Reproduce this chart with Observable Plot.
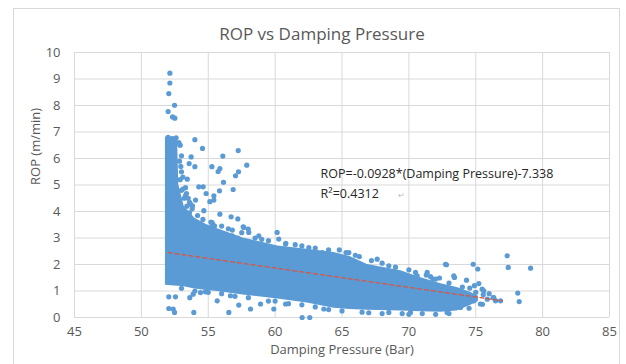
<!DOCTYPE html>
<html>
<head>
<meta charset="utf-8">
<script src="https://cdn.jsdelivr.net/npm/d3@7"></script>
<script src="https://cdn.jsdelivr.net/npm/@observablehq/plot@0.6"></script>
<style>
  html, body { margin: 0; padding: 0; background: #fff; }
  #wrap { position: relative; width: 626px; height: 364px; overflow: hidden; background:#fff; }
  #border { position: absolute; left: 13px; top: 8px; width: 607px; height: 420px; border: 1px solid #d9d9d9; box-sizing: border-box; }
  #chart { position: absolute; left: 0; top: 0; }
</style>
</head>
<body>
<div id="wrap"><div id="border"></div><div id="chart"></div></div>
<script>
const titleText = "ROP vs Damping Pressure";
const xLabel = "Damping Pressure (Bar)";
const yLabel = "ROP (m/min)";
const eqText = "ROP=-0.0928*(Damping Pressure)-7.338";
const r2Text = "R\u00b2=0.4312";
const eqX = 63.4, eqY = 5.41, r2Y = 4.66;

const xTicks = [45, 50, 55, 60, 65, 70, 75, 80, 85];
const yTicks = [0, 1, 2, 3, 4, 5, 6, 7, 8, 9, 10];

// dense core of the scatter cloud (visible envelope)
const cloudX      = [51.8, 52.7, 52.8, 53.2, 54.0, 54.9, 55.7, 57.6, 60.2, 62.4, 64.4, 65.6, 66.9, 69.4, 70.9, 72.4, 73.6, 74.6, 75.2];
const cloudTop    = [6.8,  6.8,  5.0,  4.2,  3.75, 3.5,  3.35, 3.0,  2.7,  2.58, 2.45, 2.3,  2.0,  1.76, 1.5,  1.27, 1.13, 0.95, 0.8];
const cloudBottom = [1.22, 1.18, 1.18, 1.16, 1.08, 1.02, 0.98, 0.85, 0.7,  0.55, 0.35, 0.3,  0.27, 0.25, 0.22, 0.2,  0.25, 0.45, 0.6];

// individual points outside / on the edge of the dense core
const dotX = [
  52.13, 52.13, 52.05, 52.48, 52.0, 52.33, 52.5,
  52.0, 52.3, 52.6, 52.8, 52.9, 53.0, 52.95, 53.1, 53.3, 53.5, 53.8,
  54.0, 52.87, 54.57, 57.24, 53.72, 56.09, 57.88, 53.57, 54.0, 55.27, 55.87, 55.74, 57.26, 57.04,
  53.43, 56.14, 54.29, 54.62, 56.86, 55.84, 53.37, 54.84, 55.42, 54.05, 55.12, 55.42, 53.67,
  55.87, 56.71, 57.21, 53.82, 54.67, 55.29, 55.47, 57.61, 57.99,
  55.29, 55.92, 56.79, 57.21, 57.66, 58.03, 58.78, 60.15, 60.27, 60.78,
  56.5, 59.0, 61.5, 64.0, 66.3, 68.5, 70.0, 71.8,
  52.9, 53.1, 52.85, 53.0, 53.3, 53.6,
  53.0, 53.2, 53.4, 53.6, 54.2, 54.6, 55.2, 56.0, 56.8, 57.5, 58.5, 59.5, 60.8, 62.0, 63.0, 64.8,
  65.3, 66.0, 67.2, 68.0, 69.0, 70.5, 71.3, 72.0, 73.0, 74.0,
  52.05, 52.55, 53.62, 53.87, 54.42, 54.79, 52.05, 52.38, 52.48, 53.92, 55.67, 56.54, 56.66, 57.28,
  58.16, 58.91, 59.9, 60.78, 62.02, 62.59,
  62.52, 63.52, 65.51, 67.63, 71.37, 70.62, 72.74, 73.36, 63.64, 68.5, 70.12,
  55.0, 57.0, 59.5, 61.0, 63.0, 65.0, 66.5, 68.0, 69.5, 71.0, 72.0,
  53.0, 54.0, 56.0, 58.0, 60.0, 62.0, 64.0, 67.0, 70.0, 73.0, 74.5, 75.5,
  72.81, 74.81, 75.15, 73.41, 74.31, 75.23, 71.62, 72.29, 74.55, 75.6, 75.56, 76.3, 75.86,
  75.48, 76.35, 76.85, 76.48, 74.86, 75.35, 73.86, 72.86, 74.36, 73.2, 74.0, 75.0, 73.6, 74.9, 76.0,
  77.35, 77.43, 79.1, 78.14, 78.25
];
const dotY = [
  9.22, 8.85, 8.45, 8.01, 7.77, 7.57, 7.52,
  6.8, 6.75, 6.78, 6.6, 6.5, 6.1, 5.7, 5.3, 4.9, 4.5, 4.1,
  6.71, 6.52, 6.38, 6.30, 6.06, 6.09, 5.75, 5.81, 5.69, 5.69, 5.62, 5.51, 5.50, 5.35,
  5.22, 5.10, 4.93, 4.93, 4.83, 4.78, 4.68, 4.68, 4.59, 4.43, 4.37, 4.43, 4.28,
  3.90, 3.80, 3.72, 4.21, 4.03, 3.58, 3.46, 3.42, 3.34,
  3.52, 3.15, 3.08, 3.0, 3.40, 3.21, 3.08, 3.21, 2.96, 2.77,
  3.35, 2.95, 2.75, 2.55, 2.3, 1.95, 1.8, 1.45,
  5.2, 4.85, 5.9, 5.5, 4.6, 4.35,
  4.8, 4.5, 4.2, 3.95, 3.85, 3.7, 3.6, 3.45, 3.3, 3.2, 3.0, 2.9, 2.8, 2.7, 2.62, 2.55,
  2.45, 2.35, 2.15, 2.05, 1.9, 1.7, 1.6, 1.45, 1.3, 1.15,
  0.78, 0.78, 0.75, 0.88, 0.94, 0.97, 0.34, 0.32, 0.19, 0.19, 0.63, 0.19, 0.82, 0.47,
  0.32, 0.51, 0.32, 0.51, 0.0, 0.0,
  2.64, 2.45, 2.45, 2.2, 1.70, 1.57, 2.01, 1.57, 0.32, 0.19, 0.19,
  0.95, 0.8, 0.62, 0.52, 0.4, 0.25, 0.2, 0.15, 0.15, 0.15, 0.12,
  1.1, 1.0, 0.9, 0.75, 0.62, 0.48, 0.3, 0.18, 0.12, 0.15, 0.35, 0.5,
  1.99, 2.01, 1.83, 1.51, 1.41, 1.28, 1.54, 1.49, 1.11, 1.01, 0.86, 0.75, 0.69,
  1.07, 0.75, 0.63, 0.63, 0.63, 0.51, 0.38, 0.19, 0.63, 1.0, 0.9, 0.95, 0.7, 1.2, 0.9,
  2.33, 1.89, 1.86, 0.92, 0.60
];

const trendX = [52, 77];
const trendY = [2.45, 0.63];

const blue = "#5B9BD5";
const gridColor = "#d9d9d9";
const textColor = "#595959";

const cloud = cloudX.map((x, i) => ({x, top: cloudTop[i], bottom: cloudBottom[i]}));
const dots = dotX.map((x, i) => ({x, y: dotY[i]}));
const trend = trendX.map((x, i) => ({x, y: trendY[i]}));

const chart = Plot.plot({
  width: 626,
  height: 364,
  marginLeft: 74,
  marginRight: 17,
  marginTop: 52,
  marginBottom: 47,
  style: { fontFamily: "'Open Sans', 'Noto Sans', sans-serif", fontSize: "13px", color: textColor, background: "transparent", overflow: "visible" },
  x: { domain: [45, 85] },
  y: { domain: [0, 10] },
  marks: [
    Plot.gridX(xTicks, { stroke: gridColor, strokeOpacity: 1 }),
    Plot.gridY(yTicks, { stroke: gridColor, strokeOpacity: 1 }),
    Plot.axisX(xTicks, { tickSize: 0, tickPadding: 9, label: null, fill: textColor, fontSize: 13 }),
    Plot.axisY(yTicks, { tickSize: 0, tickPadding: 14, label: null, fill: textColor, fontSize: 13 }),
    Plot.areaY(cloud, { x: "x", y1: "bottom", y2: "top", fill: blue }),
    Plot.dot(dots, { x: "x", y: "y", r: 2.6, fill: blue }),
    Plot.line(trend, { x: "x", y: "y", stroke: "#e0533a", strokeWidth: 1.2, strokeDasharray: "4,3" }),
    Plot.text([eqText], { x: eqX, y: eqY, text: d => d, textAnchor: "start", fontSize: 12.5, fill: "#262626" }),
    Plot.text([r2Text], { x: eqX, y: r2Y, text: d => d, textAnchor: "start", fontSize: 12.5, fill: "#262626" }),
    Plot.text(["\u21b5"], { x: eqX + 5.75, y: r2Y - 0.05, text: d => d, textAnchor: "start", fontSize: 8, fill: "#bbbbbb" }),
    Plot.text([titleText], { frameAnchor: "top", dx: -20, dy: -25, text: d => d, fontSize: 17, fill: textColor }),
    Plot.text([xLabel], { frameAnchor: "bottom", dy: 36, text: d => d, fontSize: 13, fill: textColor }),
    Plot.text([yLabel], { frameAnchor: "left", dx: -39, rotate: -90, text: d => d, fontSize: 13, fill: textColor })
  ]
});
document.getElementById("chart").appendChild(chart);
</script>
</body>
</html>
